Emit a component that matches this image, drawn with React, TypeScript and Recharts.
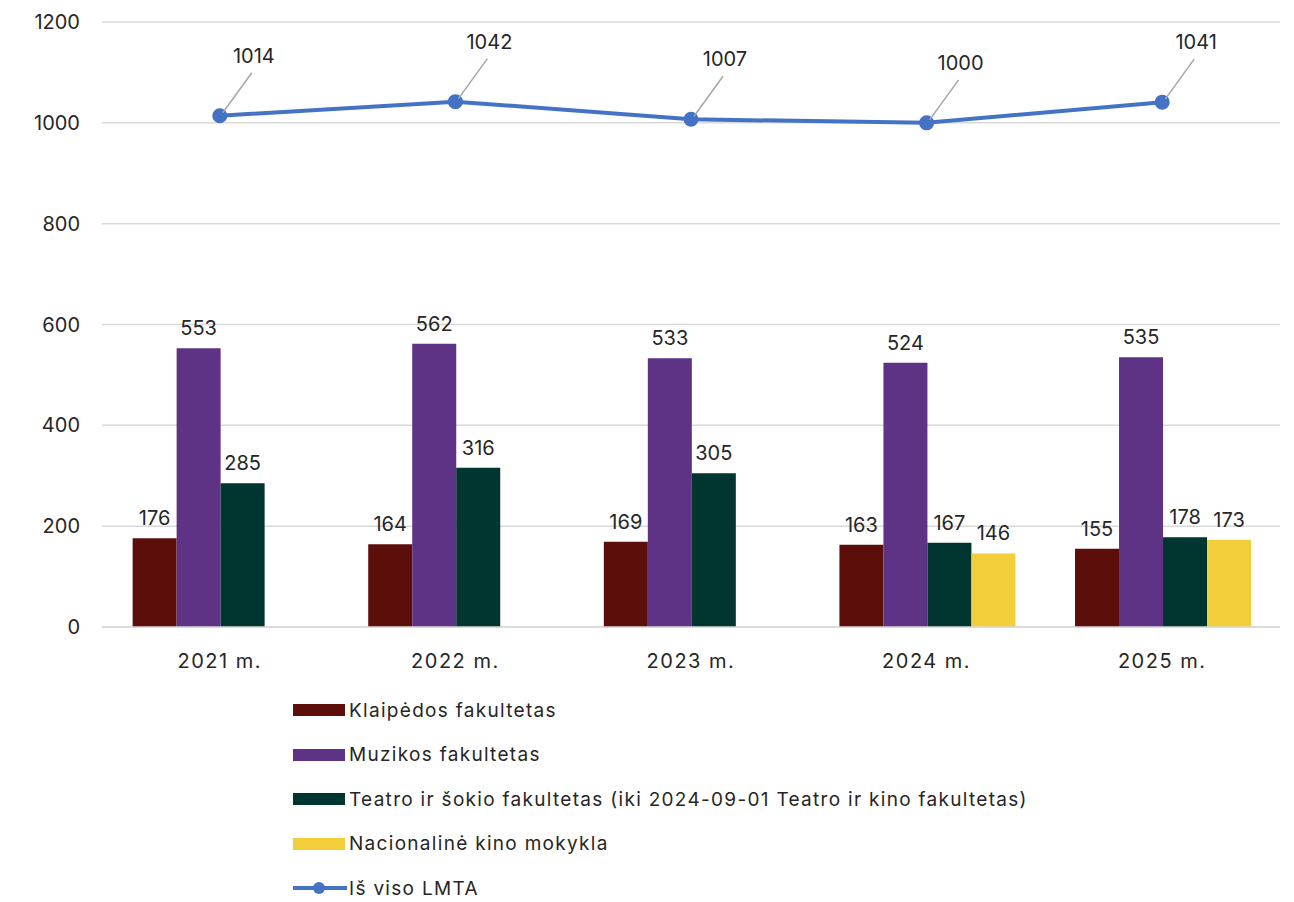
import React from 'react';
import { ComposedChart, Bar, Line, XAxis, YAxis, CartesianGrid, LabelList } from 'recharts';

const years = ['2021 m.', '2022 m.', '2023 m.', '2024 m.', '2025 m.'];
const klaipeda = [176, 164, 169, 163, 155];
const muzika = [553, 562, 533, 524, 535];
const teatras = [285, 316, 305, 167, 178];
const kinas: (number | null)[] = [null, null, null, 146, 173];
const viso = [1014, 1042, 1007, 1000, 1041];
const yTicks = [0, 200, 400, 600, 800, 1000, 1200];

const series = [
  { key: 'klaipeda', name: 'Klaipėdos fakultetas', color: '#5C0E0B' },
  { key: 'muzika', name: 'Muzikos fakultetas', color: '#5E3285' },
  { key: 'teatras', name: 'Teatro ir šokio fakultetas (iki 2024-09-01 Teatro ir kino fakultetas)', color: '#003530' },
  { key: 'kinas', name: 'Nacionalinė kino mokykla', color: '#F2CE3A' },
];
const lineColor = '#4472C4';

const data = years.map((y, i) => ({
  year: y,
  klaipeda: klaipeda[i],
  muzika: muzika[i],
  teatras: teatras[i],
  kinas: kinas[i],
  viso: viso[i],
}));

const font = 'Inter, "Noto Sans", sans-serif';
const textColor = '#262626';

const LeaderLabel = (props: any) => {
  const { x, y, value } = props;
  if (x == null || y == null) return null;
  const tx = x + 34;
  const ty = y - 60;
  return (
    <g>
      <line x1={x + 3} y1={y - 3} x2={tx - 2} y2={ty + 17} stroke="#A6A6A6" strokeWidth={1.5} />
      <text x={tx} y={ty} textAnchor="middle" dominantBaseline="central" fontSize={20} fill={textColor} fontFamily={font}>
        {value}
      </text>
    </g>
  );
};

const LegendBox = () => (
  <div style={{ position: 'absolute', left: 293, top: 688, fontFamily: font, fontSize: 19, letterSpacing: 1.3, color: textColor }}>
    {series.map((s) => (
      <div key={s.key} style={{ display: 'flex', alignItems: 'center', height: 44.5 }}>
        <div style={{ width: 52, height: 12, background: s.color, marginRight: 4 }} />
        <span>{s.name}</span>
      </div>
    ))}
    <div style={{ display: 'flex', alignItems: 'center', height: 44.5 }}>
      <svg width={56} height={14}>
        <line x1={0} y1={7} x2={54} y2={7} stroke={lineColor} strokeWidth={4} />
        <circle cx={26} cy={7} r={6} fill={lineColor} />
      </svg>
      <span>Iš viso LMTA</span>
    </div>
  </div>
);

export default function App() {
  return (
    <div style={{ position: 'absolute', left: 0, top: 0, width: 1294, height: 902, background: '#fff' }}>
      <ComposedChart
        width={1294}
        height={700}
        data={data}
        margin={{ top: 22, right: 14, left: 0, bottom: 33 }}
        barCategoryGap="13%"
        barGap={0}
      >
        <CartesianGrid vertical={false} stroke="#D9D9D9" strokeWidth={1.5} />
        <XAxis
          dataKey="year"
          height={40}
          axisLine={{ stroke: '#D9D9D9', strokeWidth: 1.5 }}
          tickLine={false}
          tickMargin={21}
          tick={{ fontSize: 20, fill: textColor, fontFamily: font, letterSpacing: 1.5 }}
        />
        <YAxis
          width={102}
          domain={[0, 1200]}
          ticks={yTicks}
          axisLine={false}
          tickLine={false}
          tickMargin={16}
          tick={{ fontSize: 20, fill: textColor, fontFamily: font }}
        />
        {series.map((s) => (
          <Bar key={s.key} dataKey={s.key} name={s.name} fill={s.color} isAnimationActive={false}>
            <LabelList dataKey={s.key} position="top" offset={13} fontSize={20} fill={textColor} fontFamily={font} />
          </Bar>
        ))}
        <Line
          dataKey="viso"
          name="Iš viso LMTA"
          stroke={lineColor}
          strokeWidth={4}
          dot={{ r: 5.5, fill: lineColor, stroke: lineColor }}
          isAnimationActive={false}
        >
          <LabelList dataKey="viso" content={<LeaderLabel />} />
        </Line>
      </ComposedChart>
      <LegendBox />
    </div>
  );
}
